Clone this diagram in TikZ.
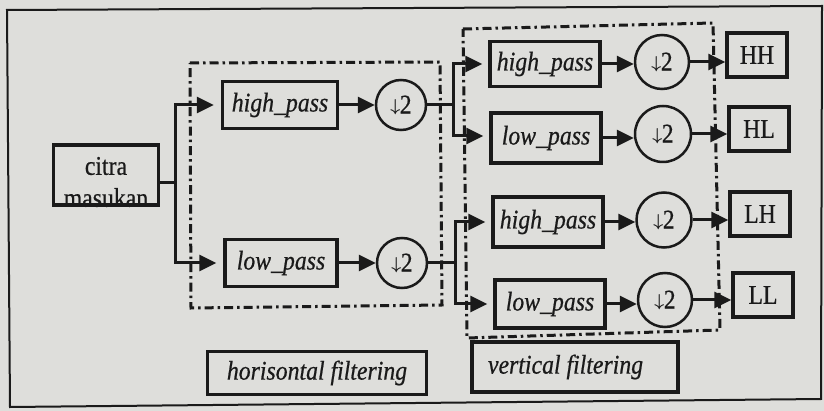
\documentclass[tikz,border=0pt]{standalone}
\usepackage{fontspec}
\setmainfont{Liberation Serif}[FakeStretch=0.88, FakeBold=0.6]
\usepackage{amsmath,bm}
\usetikzlibrary{arrows.meta}
\definecolor{paper}{RGB}{222,222,219}
\definecolor{ink}{RGB}{26,26,26}
% down-sampling label
\newcommand\dtwo{\raisebox{2.5pt}{\fontsize{17}{17}\selectfont$\bm{\downarrow}$}\kern-0.5pt 2}
\tikzset{
  every node/.style={text=ink, font=\fontsize{27}{32}\selectfont},
  filt/.style={draw=ink, line width=3.5pt, minimum width=112pt, minimum height=47pt,
    inner sep=0pt, font=\fontsize{27}{32}\selectfont\itshape},
  decim/.style={draw=ink, circle, line width=2.5pt, minimum size=50pt, inner sep=0pt},
  outbox/.style={draw=ink, line width=3.5pt, minimum width=60pt, minimum height=44pt, inner sep=0pt},
  legendbox/.style={draw=ink, line width=3.5pt, minimum height=45pt, inner sep=0pt,
    font=\fontsize{27}{32}\selectfont\itshape},
  wire/.style={draw=ink, line width=3pt},
  arr/.style={wire, -{Triangle[length=17pt,width=16pt]}},
  bandbox/.style={draw=ink, line width=3pt, dash pattern=on 9pt off 4pt on 2.5pt off 4pt},
}
\begin{document}
\begin{tikzpicture}[x=1pt, y=-1pt]
  % page
  \useasboundingbox (0,0) rectangle (824,411);
  \fill[paper] (0,0) rectangle (824,411);
  \draw[ink, line width=2pt] (7,10) -- (822,6) -- (821,399) -- (10,407) -- cycle;

  % filter groups
  \draw[bandbox] (190,63) -- (440,62) -- (442,305) -- (191,308) -- cycle;
  \draw[bandbox] (463,29) -- (713,23) -- (720,330) -- (467,338) -- cycle;

  % input image
  \node[draw=ink, line width=3.5pt, minimum width=105pt, minimum height=60pt] (in) at (106,175) {};
  \node[align=center] (intext) at (106,182) {citra\\masukan};

  % first level (rows)
  \node[filt, minimum width=115pt] (h1) at (280,105) {high\_pass};
  \node[filt] (l1) at (281,263) {low\_pass};
  \node[decim] (d1) at (401,105) {\dtwo};
  \node[decim] (d2) at (402,263) {\dtwo};

  % second level (columns)
  \node[filt, minimum width=110pt, minimum height=45pt] (f1) at (545,64) {high\_pass};
  \node[filt, minimum width=110pt, minimum height=50pt] (f2) at (546,138) {low\_pass};
  \node[filt, minimum width=110pt, minimum height=50pt] (f3) at (548,222) {high\_pass};
  \node[filt, minimum width=110pt, minimum height=48pt] (f4) at (550,304) {low\_pass};
  \node[decim, minimum size=54pt] (c1) at (662,62) {\dtwo};
  \node[decim, minimum size=56pt] (c2) at (663,134) {\dtwo};
  \node[decim, minimum size=55pt] (c3) at (664,220) {\dtwo};
  \node[decim, minimum size=54pt] (c4) at (665,300) {\dtwo};

  % sub-bands
  \node[outbox] (o1) at (757,55) {HH};
  \node[outbox] (o2) at (759,129) {HL};
  \node[outbox] (o3) at (760,214) {LH};
  \node[outbox] (o4) at (763,295) {LL};

  % legend
  \node[legendbox, minimum width=219pt, minimum height=43pt] (lh) at (317,373) {horisontal filtering};
  \node[legendbox, minimum width=206pt, minimum height=50pt]
    (lv) at (575,367) {\makebox[174pt][l]{vertical filtering}};

  % junctions
  \coordinate (j0) at (175,183);
  \coordinate (j1) at (453,105);
  \coordinate (j2) at (455,263);

  % horizontal filtering
  \draw[wire] (j0 -| in.east) -- (j0);
  \draw[arr, shorten >=7pt] (j0) |- (h1.west);
  \draw[arr, shorten >=7pt] (j0) |- (l1.west);
  \draw[arr] (h1.east) -- (d1.west);
  \draw[arr] (l1.east) -- (d2.west);

  % vertical filtering
  \draw[wire] (d1.east) -- (j1);
  \draw[wire] (d2.east) -- (j2);
  \draw[arr, shorten >=6pt] (j1) |- (f1.west);
  \draw[arr, shorten >=6pt] (j1) |- ([yshift=2pt]f2.west);
  \draw[arr, shorten >=6pt] (j2) |- (f3.west);
  \draw[arr, shorten >=6pt] (j2) |- (f4.west);

  % down-sampling
  \draw[arr] (f1.east) -- (f1.east -| c1.west);
  \draw[arr] (f2.east) -- (f2.east -| c2.west);
  \draw[arr] (f3.east) -- (f3.east -| c3.west);
  \draw[arr] (f4.east) -- (f4.east -| c4.west);
  \draw[arr] (c1.east) -- (c1.east -| o1.west);
  \draw[arr] (c2.east) -- (c2.east -| o2.west);
  \draw[arr] (c3.east) -- (c3.east -| o3.west);
  \draw[arr] (c4.east) -- (c4.east -| o4.west);
\end{tikzpicture}
\end{document}
